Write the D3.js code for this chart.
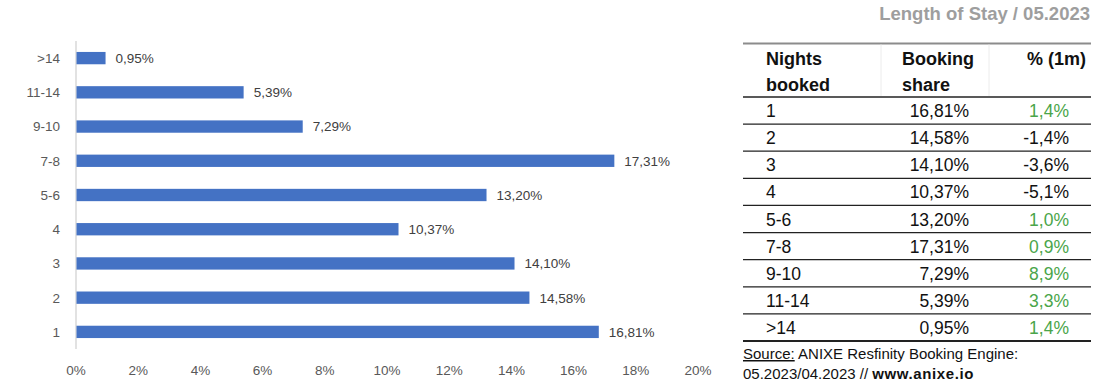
<!DOCTYPE html>
<html><head><meta charset="utf-8">
<script src="https://cdn.jsdelivr.net/npm/d3@7"></script>
<style>body{margin:0;background:#fff}svg{display:block}</style>
</head><body><svg id="c" width="1100" height="390"></svg>
<script>
const categories = ["1","2","3","4","5-6","7-8","9-10","11-14",">14"];
const shares = [16.81,14.58,14.10,10.37,13.20,17.31,7.29,5.39,0.95];
const changes = [1.4,-1.4,-3.6,-5.1,1.0,0.9,8.9,3.3,1.4];
const xTicks = [0,2,4,6,8,10,12,14,16,18,20];
const title = "Length of Stay / 05.2023";
const headers = [["Nights","booked"],["Booking","share"],["% (1m)"]];

const svg = d3.select("#c");
const font = "'Liberation Sans', Arial, sans-serif";
const fmt = (v,d) => v.toFixed(d).replace(".", ",") + "%";

// ---- bar chart
const x = d3.scaleLinear().domain([0,20]).range([76,698]);
const y = d3.scaleBand().domain(categories.slice().reverse()).range([41,349]).paddingInner(0.64).paddingOuter(0.32);

svg.append("line").attr("x1",76).attr("x2",76).attr("y1",41).attr("y2",349)
  .attr("stroke","#d9d9d9").attr("stroke-width",1.5);

svg.append("g").selectAll("rect").data(categories).join("rect")
  .attr("x", x(0)+0.5)
  .attr("y", c => y(c))
  .attr("width", (c,i) => x(shares[i]) - x(0) - 0.5)
  .attr("height", y.bandwidth())
  .attr("fill","#4472C4");

svg.append("g").selectAll("text").data(categories).join("text")
  .attr("x", (c,i) => x(shares[i]) + 10)
  .attr("y", c => y(c) + y.bandwidth()/2)
  .attr("dy","0.36em")
  .attr("font-family",font).attr("font-size",13.5).attr("fill","#404040")
  .text((c,i) => fmt(shares[i],2));

svg.append("g").selectAll("text").data(categories).join("text")
  .attr("x", 60)
  .attr("y", c => y(c) + y.bandwidth()/2)
  .attr("dy","0.36em").attr("text-anchor","end")
  .attr("font-family",font).attr("font-size",13.5).attr("fill","#595959")
  .text(c => c);

svg.append("g").selectAll("text").data(xTicks).join("text")
  .attr("x", d => x(d)).attr("y", 370).attr("dy","0.36em")
  .attr("text-anchor","middle")
  .attr("font-family",font).attr("font-size",13.5).attr("fill","#595959")
  .text(d => d + "%");

// ---- title
svg.append("text").attr("x",1090).attr("y",20).attr("text-anchor","end")
  .attr("font-family",font).attr("font-weight","bold").attr("font-size",18.5)
  .attr("fill","#9e9e9e").text(title);

// ---- table
const tL = 743, tR = 1091, tTop = 43.5, hBot = 97;
const rowH = (341 - hBot) / categories.length;
const t = svg.append("g");
t.append("line").attr("x1",tL).attr("x2",tR).attr("y1",tTop).attr("y2",tTop).attr("stroke","#8c8c8c").attr("stroke-width",2);
[881,989].forEach(vx => t.append("line").attr("x1",vx).attr("x2",vx).attr("y1",tTop+1).attr("y2",hBot-1).attr("stroke","#ececec").attr("stroke-width",1));
t.append("line").attr("x1",tL).attr("x2",tR).attr("y1",hBot).attr("y2",hBot).attr("stroke","#222").attr("stroke-width",1.5);

const hx = [766, 902, 1086];
const ha = ["start","start","end"];
headers.forEach((lines,j) => lines.forEach((s,k) => {
  t.append("text").attr("x",hx[j]).attr("y",65 + k*25.5).attr("text-anchor",ha[j])
    .attr("font-family",font).attr("font-weight","bold").attr("font-size",18).attr("fill","#111").text(s);
}));

categories.forEach((c,i) => {
  const bot = hBot + rowH*(i+1);
  t.append("line").attr("x1",tL).attr("x2",tR).attr("y1",bot).attr("y2",bot)
    .attr("stroke","#222").attr("stroke-width", i === categories.length-1 ? 2 : 1.2);
  const by = bot - 7;
  t.append("text").attr("x",766).attr("y",by).attr("font-family",font).attr("font-size",17.5).attr("fill","#111").text(c);
  t.append("text").attr("x",969).attr("y",by).attr("text-anchor","end").attr("font-family",font).attr("font-size",17.5).attr("fill","#111").text(fmt(shares[i],2));
  t.append("text").attr("x",1069).attr("y",by).attr("text-anchor","end").attr("font-family",font).attr("font-size",17.5)
    .attr("fill", changes[i] > 0 ? "#4aa54a" : "#111").text(fmt(changes[i],1));
});

const src = svg.append("text").attr("x",743).attr("y",359).attr("font-family",font).attr("font-size",15).attr("fill","#111");
src.append("tspan").attr("text-decoration","underline").text("Source:");
src.append("tspan").text(" ANIXE Resfinity Booking Engine:");
const src2 = svg.append("text").attr("x",743).attr("y",379).attr("font-family",font).attr("font-size",15).attr("fill","#111");
src2.append("tspan").text("05.2023/04.2023 // ");
src2.append("tspan").attr("font-weight","bold").attr("letter-spacing",0.6).text("www.anixe.io");
</script></body></html>
